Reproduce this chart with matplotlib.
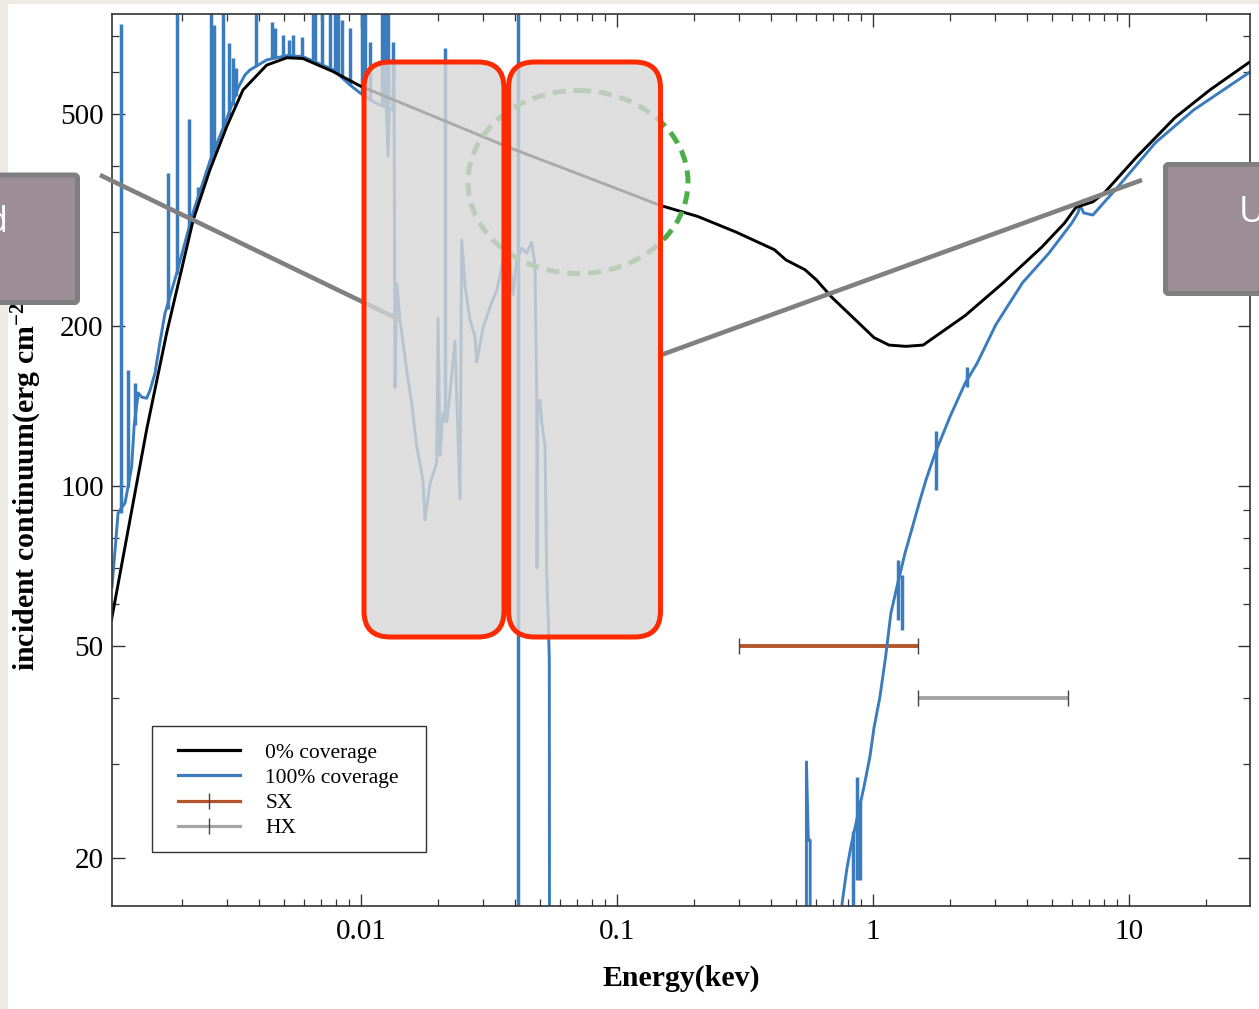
import matplotlib.pyplot as plt
from matplotlib.lines import Line2D
from matplotlib.patches import FancyBboxPatch, Ellipse, Rectangle
from matplotlib.ticker import LogLocator, FuncFormatter, NullFormatter

plt.rcParams.update({'font.family': 'Liberation Serif',
                     'mathtext.default': 'regular'})

# incident continuum, 0% coverage
E_bare = [1.06e-3, 1.25e-3, 1.456e-3, 1.742e-3, 2.21e-3, 2.57e-3, 2.99e-3, 3.46e-3, 4.28e-3,
          5.13e-3, 5.93e-3, 7.78e-3, 9.9e-3, 0.0382, 0.0716, 0.147, 0.207, 0.292,
          0.412, 0.457, 0.542, 0.601, 0.692, 0.821, 1.01, 1.155, 1.346, 1.57, 2.29,
          3.23, 4.56, 5.60, 6.21, 7.23, 8.03, 10.7, 15.1, 20.7, 29.7]
F_bare = [56, 86, 128, 194, 316, 393, 474, 555, 618,
          638, 636, 601, 565, 432, 385, 337, 321, 300,
          278, 266, 255, 244, 226, 209, 190, 184, 183, 184, 209,
          241, 281, 312, 334, 342, 356, 415, 492, 555, 627]

# incident continuum, 100% coverage (values of 1 lie below the plotted range)
E_cov = [1.065e-3, 1.125e-3, 1.197e-3, 1.23e-3, 1.271e-3, 1.30e-3, 1.349e-3, 1.391e-3,
         1.455e-3, 1.50e-3, 1.568e-3, 1.64e-3, 1.715e-3, 1.91e-3, 2.21e-3, 2.57e-3,
         2.99e-3, 3.31e-3, 3.52e-3, 3.68e-3, 4.28e-3, 5.13e-3, 5.93e-3, 7.78e-3,
         9.06e-3, 9.91e-3, 0.01084, 0.01186, 0.01255, 0.01275, 0.01290, 0.01330,
         0.01345, 0.01358, 0.01380, 0.0142, 0.01508, 0.01578, 0.0165, 0.01746,
         0.01778, 0.0186, 0.01975, 0.0200, 0.02035, 0.0209, 0.02162, 0.02227,
         0.02329, 0.02436, 0.02474, 0.02548, 0.02666, 0.02788, 0.02831, 0.02997,
         0.0319, 0.03388, 0.03545, 0.03652, 0.0382, 0.03925, 0.04056, 0.04244,
         0.04438, 0.04643, 0.04783, 0.04857, 0.0487, 0.0490, 0.05002, 0.0508,
         0.05234, 0.05314, 0.0539, 0.0544, 0.0547, 0.5496, 0.5496, 0.559,
         0.5683, 0.5683, 0.757, 0.757, 0.791, 0.820, 0.922, 0.973,
         1.01, 1.064, 1.12, 1.175, 1.24, 1.334, 1.427, 1.527,
         1.61, 1.746, 2.0, 2.29, 2.55, 3.02, 3.84, 4.87,
         5.98, 6.32, 6.44, 6.65, 7.23, 7.64, 9.06, 12.7,
         17.9, 29.7]
F_cov = [64.6, 89, 92.9, 99.6, 108.6, 130, 149.6, 146.9,
         146.2, 151.4, 163, 186.6, 211, 252, 327, 408,
         490, 560, 592, 605, 632, 644, 641, 606,
         567, 548, 532, 520, 515, 417, 512, 509,
         620, 153, 240, 205, 165, 143, 119, 102.6,
         86.3, 100.9, 110.5, 207, 114, 137, 132, 150,
         187, 94.5, 290, 238, 205, 191, 171, 198,
         217, 233, 256, 280, 265, 229, 265, 280,
         274, 287, 260, 147.6, 70.2, 140, 145, 132,
         119, 68.6, 56.2, 47, 1, 1, 30.3, 21.6,
         21.6, 1, 1, 16.4, 19.1, 21.0, 27.2, 31.0,
         35.2, 40.1, 47.7, 57.7, 64.6, 74.8, 83.8, 94.1,
         102.6, 115, 135, 156, 170, 201, 241, 274,
         312, 326, 337, 326, 323, 333, 365, 442,
         509, 600]

# narrow lines on the covered spectrum: energy, foot, tip
line_E = [1.155e-3, 1.233e-3, 1.31e-3, 1.767e-3, 1.906e-3, 2.13e-3, 2.307e-3, 2.595e-3,
          2.673e-3, 2.89e-3, 3.05e-3, 3.154e-3, 3.24e-3, 3.89e-3, 4.478e-3, 4.614e-3,
          4.97e-3, 5.248e-3, 5.44e-3, 5.866e-3, 6.51e-3, 6.61e-3, 7.02e-3, 7.57e-3,
          7.91e-3, 8.15e-3, 8.41e-3, 9.06e-3, 0.01006, 0.01037, 0.01084, 0.01205,
          0.01241, 0.01278, 0.01337, 0.02128, 0.04096, 0.835, 0.866, 0.889,
          1.2525, 1.298, 1.762, 2.328]
line_lo = [89, 99.6, 130, 215, 250, 305, 345, 410,
           425, 470, 495, 520, 540, 615, 635, 637,
           642, 644, 644, 641, 630, 628, 620, 610,
           602, 597, 590, 567, 545, 540, 532, 518,
           515, 513, 509, 132, 1, 16, 18.2, 18.2,
           56.0, 53.6, 98.3, 153.6]
line_hi = [738, 165, 156, 387, 2000, 490, 365, 2000,
           735, 2000, 680, 638, 611, 2000, 745, 726,
           704, 689, 704, 698, 2000, 2000, 2000, 2000,
           2000, 2000, 751, 726, 2000, 2000, 683, 2000,
           2000, 2000, 683, 665, 2000, 22.5, 28.4, 25.7,
           72.6, 68.1, 127, 167]

# detector bands
sx_band = [0.3, 1.5]
sx_level = 50
hx_band = [1.5, 5.8]
hx_level = 40

blue = '#3a7cbd'
sx_col = '#b4552d'
hx_col = '#a6a6a6'

fig = plt.figure(figsize=(12.59, 10.09), dpi=100)
fig.patches.append(Rectangle((0, 0), 7 / 1259, 1, transform=fig.transFigure,
                             color='#eeebe5', zorder=0))
fig.patches.append(Rectangle((0, 1 - 3 / 1009), 1, 3 / 1009, transform=fig.transFigure,
                             color='#eeebe5', zorder=0))

ax = fig.add_axes([0.08896, 0.10208, 0.90389, 0.88404])
ax.set_xscale('log')
ax.set_yscale('log')

ax.plot(sx_band, [sx_level] * 2, color=sx_col, lw=2.8, marker='|', ms=12,
        mec='#444444', mew=1.0, solid_capstyle='butt')
ax.plot(hx_band, [hx_level] * 2, color=hx_col, lw=2.8, marker='|', ms=12,
        mec='#444444', mew=1.0, solid_capstyle='butt')
ax.vlines(line_E, line_lo, line_hi, color=blue, lw=2.5)
ax.plot(E_cov, F_cov, color=blue, lw=2.1)
ax.plot(E_bare, F_bare, color='black', lw=2.1)

ax.set_xlim(1.065e-3, 29.7)
ax.set_ylim(16.24, 771)

ax.xaxis.set_major_locator(LogLocator(base=10, numticks=20))
ax.xaxis.set_minor_locator(LogLocator(base=10, subs=range(2, 10), numticks=100))
ax.xaxis.set_major_formatter(FuncFormatter(lambda v, _: f'{v:g}'))
ax.xaxis.set_minor_formatter(NullFormatter())
ax.yaxis.set_major_locator(LogLocator(base=10, subs=(1.0, 2.0, 5.0), numticks=20))
ax.yaxis.set_minor_locator(LogLocator(base=10, subs=(3, 4, 6, 7, 8, 9), numticks=100))
ax.yaxis.set_major_formatter(FuncFormatter(lambda v, _: f'{v:g}'))
ax.yaxis.set_minor_formatter(NullFormatter())

ax.tick_params(which='both', direction='in', top=True, right=True,
               colors='#333333', labelcolor='black', labelsize=21)
ax.tick_params(which='major', length=9, width=1.0)
ax.tick_params(which='minor', length=5, width=0.9)
ax.tick_params(axis='x', pad=9)
ax.tick_params(axis='y', pad=6)
for s in ax.spines.values():
    s.set_color('#333333')
    s.set_linewidth(1.2)

ax.set_xlabel('Energy(kev)', fontsize=21.5, fontweight='bold')
ax.set_ylabel('incident continuum(erg cm$^{-2}$ s$^{-1}$)', fontsize=21.5,
              fontweight='bold')
ax.xaxis.set_label_coords(0.5, -0.066)
ax.yaxis.set_label_coords(-0.06, 0.5)

# legend: frame drawn separately so the entries can sit where they belong
ax.add_patch(Rectangle((0.0351, 0.0605), 0.2408, 0.1413, transform=ax.transAxes,
                       fc='white', ec='#333333', lw=1.0, zorder=4))
handles = [Line2D([], [], color='black', lw=2.3),
           Line2D([], [], color=blue, lw=2.3),
           Line2D([], [], color=sx_col, lw=2.3, marker='|', ms=12, mec='#444444', mew=1.0),
           Line2D([], [], color=hx_col, lw=2.3, marker='|', ms=12, mec='#444444', mew=1.0)]
leg = ax.legend(handles, ['0% coverage', '100% coverage', 'SX', 'HX'],
                loc='center left', bbox_to_anchor=(0.058, 0.1295),
                borderaxespad=0, borderpad=0, labelspacing=0.24,
                handlelength=2.9, handletextpad=1.16, fontsize=15.5,
                frameon=False)
leg.set_zorder(5)

# slide annotations on top of the plot, in pixel units
ov = fig.add_axes([0, 0, 1, 1], zorder=10)
ov.set_xlim(0, 1259)
ov.set_ylim(1009, 0)
ov.axis('off')

ov.plot([100, 400], [175, 320], color='#808080', lw=3.3, solid_capstyle='butt', zorder=1)
ov.plot([1142, 661], [180, 355], color='#808080', lw=3.3, solid_capstyle='butt', zorder=1)
ov.add_patch(Ellipse((578, 182), 220, 183, fill=False, ec='#4cae48', lw=3.6,
                     ls=(0, (2.6, 1.6)), zorder=2))
for x0, x1 in [(364, 504), (508.5, 660.5)]:
    ov.add_patch(FancyBboxPatch((x0, 62), x1 - x0, 575,
                                boxstyle='round,pad=0,rounding_size=26',
                                fc=(0.84, 0.84, 0.84, 0.8), ec='#ff2a00', lw=3.6,
                                zorder=3))
ov.add_patch(FancyBboxPatch((-20, 175), 97.5, 127.5, boxstyle='round,pad=0,rounding_size=3',
                            fc='#9d8d95', ec='#7f7f7f', lw=3.6, zorder=4, clip_on=False))
ov.add_patch(FancyBboxPatch((1165.5, 164.5), 120, 129, boxstyle='round,pad=0,rounding_size=3',
                            fc='#9d8d95', ec='#7f7f7f', lw=3.6, zorder=4, clip_on=False))
ov.text(8, 232, 'd', color='white', fontsize=26, family='Open Sans',
        ha='right', va='baseline', zorder=5)
ov.text(1239, 222, 'U', color='white', fontsize=26, family='Open Sans',
        ha='left', va='baseline', zorder=5)

fig.savefig('out.png', dpi=100)
